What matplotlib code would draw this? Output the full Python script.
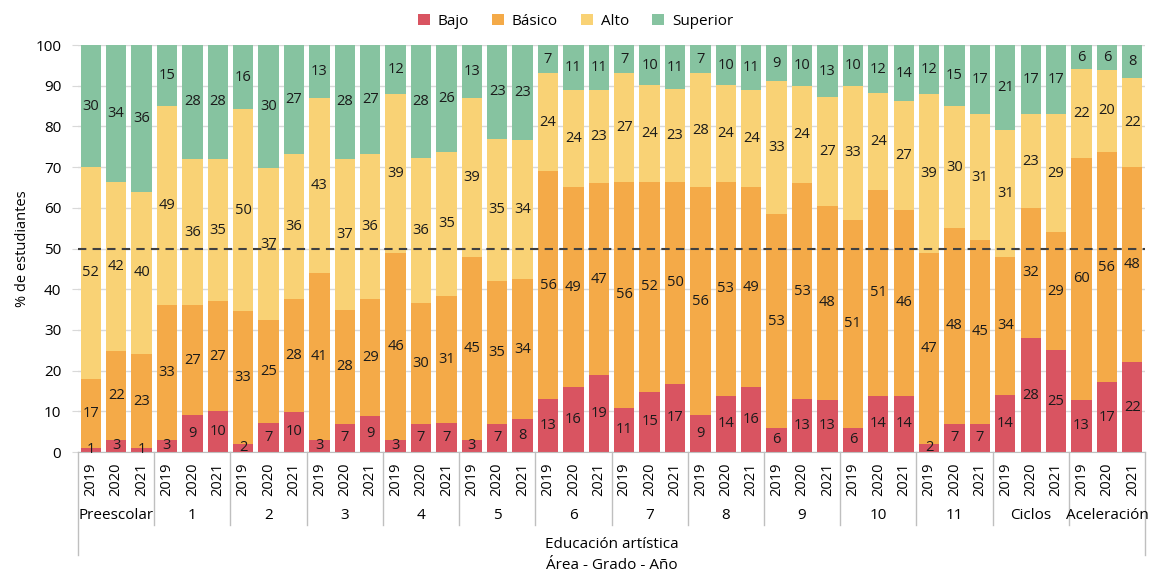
import matplotlib
matplotlib.use('Agg')
import matplotlib.pyplot as plt
import numpy as np

plt.rcParams['font.family'] = ['Open Sans', 'DejaVu Sans']

groups = ['Preescolar', '1', '2', '3', '4', '5', '6', '7', '8', '9', '10', '11', 'Ciclos', 'Aceleración']
years = ['2019', '2020', '2021']
levels = ['Bajo', 'Básico', 'Alto', 'Superior']
colors = ['#D95461', '#F4AA48', '#F9D275', '#86C3A0']

bajo = [1, 3, 1, 3, 9, 10, 2, 7, 10, 3, 7, 9, 3, 7, 7, 3, 7, 8, 13, 16, 19,
        11, 15, 17, 9, 14, 16, 6, 13, 13, 6, 14, 14, 2, 7, 7, 14, 28, 25, 13, 17, 22]
basico = [17, 22, 23, 33, 27, 27, 33, 25, 28, 41, 28, 29, 46, 30, 31, 45, 35, 34, 56, 49, 47,
          56, 52, 50, 56, 53, 49, 53, 53, 48, 51, 51, 46, 47, 48, 45, 34, 32, 29, 60, 56, 48]
alto = [52, 42, 40, 49, 36, 35, 50, 37, 36, 43, 37, 36, 39, 36, 35, 39, 35, 34, 24, 24, 23,
        27, 24, 23, 28, 24, 24, 33, 24, 27, 33, 24, 27, 39, 30, 31, 31, 23, 29, 22, 20, 22]
superior = [30, 34, 36, 15, 28, 28, 16, 30, 27, 13, 28, 27, 12, 28, 26, 13, 23, 23, 7, 11, 11,
            7, 10, 11, 7, 10, 11, 9, 10, 13, 10, 12, 14, 12, 15, 17, 21, 17, 17, 6, 6, 8]

series = [bajo, basico, alto, superior]
raw = np.array(series, dtype=float)
pct = raw / raw.sum(axis=0) * 100  # 100% stacked

fig = plt.figure(figsize=(11.51, 5.77), dpi=100)
ax = fig.add_axes([0.0678, 0.2166, 0.927, 0.7054])

x = np.arange(len(bajo))
bottom = np.zeros(len(x))
for i, name in enumerate(levels):
    ax.bar(x, pct[i], 0.8, bottom=bottom, color=colors[i], label=name, zorder=2)
    for xi, b, h, v in zip(x, bottom, pct[i], series[i]):
        ax.text(xi, b + h / 2, str(v), ha='center', va='center', fontsize=10.5,
                color='#1a1a1a', zorder=5)
    bottom += pct[i]

ax.axhline(50, color='#404040', linestyle=(0, (4, 3)), linewidth=1.5, zorder=4)

ax.set_xlim(-0.5, len(x) - 0.5)
ax.set_ylim(0, 100)
ax.set_yticks(range(0, 101, 10))
ax.tick_params(axis='y', labelsize=11, length=4, color='#D9D9D9', pad=8)
ax.grid(axis='y', color='#D9D9D9', linewidth=1, zorder=0)
ax.set_xticks([])
for s in ['top', 'right', 'left']:
    ax.spines[s].set_visible(False)
ax.spines['bottom'].set_color('#BFBFBF')
ax.set_ylabel('% de estudiantes', fontsize=10.5)

# hierarchical category axis
tr = ax.get_xaxis_transform()
for xi in x:
    ax.text(xi, -0.025, years[xi % 3], rotation=90, ha='center', va='top',
            fontsize=10.5, transform=tr)
for g, name in enumerate(groups):
    ax.text(3 * g + 1, -0.155, name, ha='center', va='center', fontsize=11, transform=tr)
for g in range(len(groups) + 1):
    xs = 3 * g - 0.5
    ylow = -0.253 if g in (0, len(groups)) else -0.18
    ax.plot([xs, xs], [0, ylow], color='#BFBFBF', linewidth=1, transform=tr, clip_on=False)
ax.text((len(x) - 1) / 2, -0.228, 'Educación artística', ha='center', va='center',
        fontsize=11, transform=tr)
ax.text((len(x) - 1) / 2, -0.278, 'Área - Grado - Año', ha='center', va='center',
        fontsize=11, transform=tr)

fig.legend(loc='upper center', bbox_to_anchor=(0.5, 1.0), ncol=4, frameon=False,
           fontsize=11, handlelength=0.8, handleheight=0.8, columnspacing=1.5,
           handletextpad=0.5)

fig.savefig('out.png', dpi=100)
